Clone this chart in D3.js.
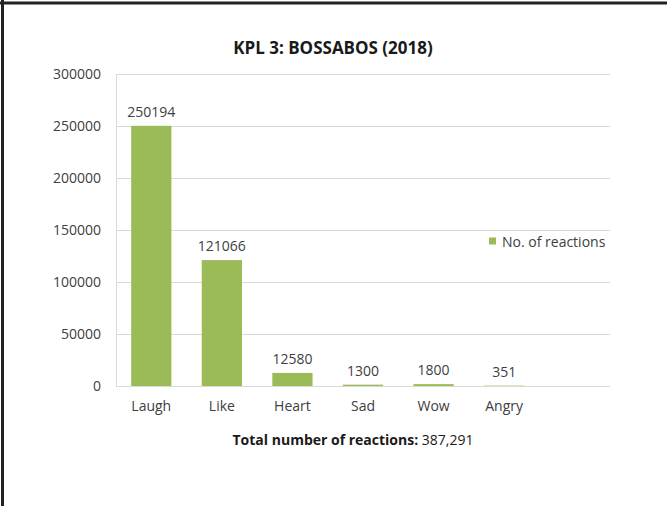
<!DOCTYPE html>
<html>
<head>
<meta charset="utf-8">
<script src="https://cdn.jsdelivr.net/npm/d3@7"></script>
<style>
  body { margin: 0; background: #fff; }
  svg { display: block; font-family: "Open Sans", sans-serif; }
</style>
</head>
<body>
<svg id="chart"></svg>
<script>
const categories = ["Laugh", "Like", "Heart", "Sad", "Wow", "Angry"];
const reactions = [250194, 121066, 12580, 1300, 1800, 351];
const yTicks = [0, 50000, 100000, 150000, 200000, 250000, 300000];
const seriesName = "No. of reactions";
const totalLabel = "Total number of reactions:";
const totalValue = " 387,291";

const width = 667, height = 506;
const margin = { top: 74, right: 57, bottom: 120, left: 116 };
const green = "#9bbb59", textCol = "#404040", gridCol = "#d9d9d9";

const svg = d3.select("#chart")
    .attr("width", width)
    .attr("height", height);

// frame (top and left edge only, like the screenshot)
svg.append("line").attr("x1", 0).attr("x2", width).attr("y1", 3).attr("y2", 3)
    .attr("stroke", "#222").attr("stroke-width", 3);
svg.append("line").attr("x1", 2.5).attr("x2", 2.5).attr("y1", 0).attr("y2", height)
    .attr("stroke", "#222").attr("stroke-width", 3);

// one empty slot on the right, the way the original plot area is laid out
const x = d3.scaleBand()
    .domain(categories.concat(["_"]))
    .range([margin.left, width - margin.right])
    .paddingInner(0.43)
    .paddingOuter(0.215);

const y = d3.scaleLinear()
    .domain([0, 300000])
    .range([height - margin.bottom, margin.top]);

// gridlines
svg.append("g")
    .selectAll("line")
    .data(yTicks)
    .join("line")
    .attr("x1", margin.left)
    .attr("x2", width - margin.right)
    .attr("y1", d => Math.round(y(d)) + 0.5)
    .attr("y2", d => Math.round(y(d)) + 0.5)
    .attr("stroke", gridCol);

svg.append("line")
    .attr("x1", margin.left + 0.5).attr("x2", margin.left + 0.5)
    .attr("y1", y(300000)).attr("y2", y(0))
    .attr("stroke", gridCol);

// y axis labels
const yAxis = svg.append("g")
    .attr("transform", "translate(" + margin.left + ",0)")
    .call(d3.axisLeft(y).tickValues(yTicks).tickSize(0).tickPadding(15).tickFormat(d3.format("d")));
yAxis.select(".domain").remove();
yAxis.selectAll("text")
    .attr("fill", textCol)
    .style("font-size", "14px")
    .style("font-family", "Open Sans, sans-serif");

// x axis labels
const xAxis = svg.append("g")
    .attr("transform", "translate(0," + y(0) + ")")
    .call(d3.axisBottom(x).tickValues(categories).tickSize(0).tickPadding(15));
xAxis.select(".domain").remove();
xAxis.selectAll("text")
    .attr("fill", textCol)
    .style("font-size", "14px")
    .style("font-family", "Open Sans, sans-serif");

// bars
svg.append("g")
    .selectAll("rect")
    .data(categories)
    .join("rect")
    .attr("x", d => x(d))
    .attr("width", x.bandwidth())
    .attr("y", (d, i) => y(reactions[i]))
    .attr("height", (d, i) => y(0) - y(reactions[i]))
    .attr("fill", green);

// value labels
svg.append("g")
    .selectAll("text")
    .data(categories)
    .join("text")
    .attr("x", d => x(d) + x.bandwidth() / 2)
    .attr("y", (d, i) => y(reactions[i]) - 9)
    .attr("text-anchor", "middle")
    .attr("fill", textCol)
    .style("font-size", "14px")
    .text((d, i) => reactions[i]);

// title
svg.append("text")
    .attr("x", 333)
    .attr("y", 54)
    .attr("text-anchor", "middle")
    .attr("fill", "#1a1a1a")
    .style("font-size", "17px")
    .style("font-weight", "bold")
    .text("KPL 3: BOSSABOS (2018)");

// legend
svg.append("rect")
    .attr("x", 489).attr("y", 237.5)
    .attr("width", 7).attr("height", 7)
    .attr("fill", green);
svg.append("text")
    .attr("x", 502).attr("y", 246.5)
    .attr("fill", textCol)
    .style("font-size", "14px")
    .text(seriesName);

// total line below the chart
const total = svg.append("text")
    .attr("x", 353).attr("y", 445)
    .attr("text-anchor", "middle")
    .attr("fill", "#1a1a1a")
    .style("font-size", "14px");
total.append("tspan").style("font-weight", "bold").text(totalLabel);
total.append("tspan").text(totalValue);
</script>
</body>
</html>
